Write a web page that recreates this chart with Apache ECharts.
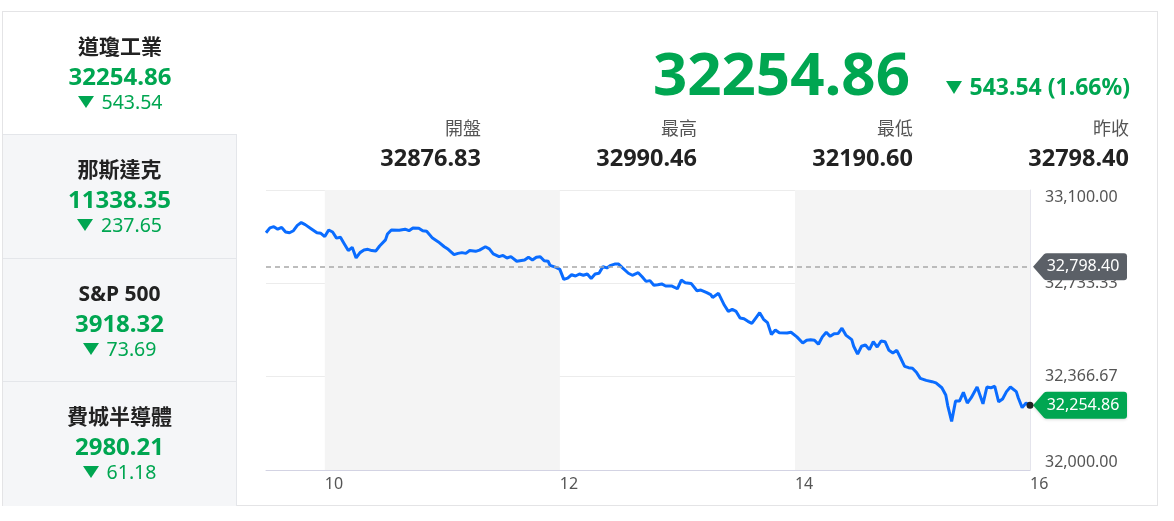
<!DOCTYPE html>
<html>
<head>
<meta charset="utf-8">
<script src="https://cdn.jsdelivr.net/npm/echarts@6/dist/echarts.min.js"></script>
<style>
  html, body { margin:0; padding:0; background:#fff; }
  body { width:1174px; height:521px; position:relative; overflow:hidden;
         font-family: "Noto Sans", "Noto Sans CJK TC", sans-serif; }
  #card { position:absolute; left:2px; top:11px; width:1156px; height:495px;
          border:1px solid #e4e4e6; box-sizing:border-box; }
  #chart { position:absolute; left:0; top:0; width:1174px; height:521px; }
  .tile { position:absolute; left:3px; width:234px; text-align:center; box-sizing:border-box; }
  .tile.inactive { background:#f5f6f8; border-right:1px solid #e4e6ea; border-top:1px solid #e4e6ea; }
  .tile .nm { position:absolute; left:0; right:0; font-size:21px; font-weight:bold; color:#222; line-height:24px; }
  .tile .val { position:absolute; left:0; right:0; font-size:24px; font-weight:bold; color:#00a651; line-height:26px; }
  .tile .chg { position:absolute; left:0; right:0; font-size:19.5px; color:#00a651; line-height:22px; }
  .tri { display:inline-block; width:0; height:0; border-left:8px solid transparent; border-right:8px solid transparent;
         border-top:12px solid #00a651; margin-right:8px; vertical-align:1px; }
  #big { position:absolute; right:264px; top:36px; font-size:60px; font-weight:bold; color:#00a651; line-height:72px; }
  #bigchg { position:absolute; right:44px; top:73px; font-size:23px; font-weight:bold; color:#00a651; line-height:26px; }
  #bigchg .tri { border-left:8px solid transparent; border-right:8px solid transparent; border-top:13px solid #00a651; margin-right:8px; }
  .stat { position:absolute; width:216px; text-align:right; }
  .stat .lb { font-size:18px; color:#555; line-height:22px; }
  .stat .vv { font-size:23.5px; font-weight:bold; color:#222; line-height:26px; margin-top:5px; }
</style>
</head>
<body>
<div id="card"></div>
<div id="chart"></div>
<div id="panel"></div>
<div id="big"></div>
<div id="bigchg"></div>
<div id="stats"></div>
<script>
// ---- data ----
const indexNames = ["道瓊工業", "那斯達克", "S&P 500", "費城半導體"];
const indexValues = ["32254.86", "11338.35", "3918.32", "2980.21"];
const indexChanges = ["543.54", "237.65", "73.69", "61.18"];

const lastPrice = "32254.86";
const lastChange = "543.54 (1.66%)";
const statLabels = ["開盤", "最高", "最低", "昨收"];
const statValues = ["32876.83", "32990.46", "32190.60", "32798.40"];

const prevClose = 32798.40;
const lastValue = 32254.86;

const xTickLabels = [10, 12, 14, 16];
const shadedRanges = [[10, 12], [14, 16]];
const yMin = 32000, yMax = 33100;

const times = ["09:30","09:32","09:34","09:36","09:38","09:40","09:42","09:44","09:46","09:48",
"09:50","09:53","09:54","09:56","09:58","10:00","10:02","10:04","10:06","10:08",
"10:10","10:12","10:14","10:16","10:18","10:20","10:22","10:24","10:26","10:28",
"10:31","10:32","10:34","10:38","10:41","10:43","10:45","10:48","10:50","10:52",
"10:55","10:58","11:01","11:03","11:06","11:08","11:10","11:12","11:14","11:17",
"11:19","11:22","11:24","11:26","11:29","11:31","11:33","11:35","11:38","11:39",
"11:42","11:44","11:46","11:48","11:50","11:52","11:54","11:55","11:58","12:00",
"12:02","12:04","12:06","12:08","12:10","12:12","12:14","12:16","12:18","12:20",
"12:22","12:24","12:26","12:28","12:30","12:32","12:35","12:37","12:38","12:40",
"12:42","12:44","12:46","12:48","12:50","12:52","12:54","12:57","13:00","13:02",
"13:04","13:07","13:08","13:10","13:12","13:15","13:17","13:18","13:21","13:24",
"13:26","13:28","13:30","13:32","13:34","13:36","13:38","13:40","13:42","13:44",
"13:46","13:48","13:50","13:52","13:53","13:56","13:58","14:01","14:04","14:06",
"14:08","14:10","14:12","14:14","14:16","14:18","14:20","14:22","14:24","14:26",
"14:29","14:30","14:32","14:34","14:36","14:38","14:40","14:42","14:44","14:46",
"14:48","14:50","14:52","14:54","14:56","14:58","15:00","15:02","15:04","15:07",
"15:10","15:12","15:15","15:17","15:18","15:20","15:22","15:24","15:26","15:28",
"15:30","15:33","15:34","15:36","15:38","15:40","15:42","15:44","15:46","15:48",
"15:50","15:53","15:54","15:56","15:58","16:00"];

const prices = [32932,32951,32956,32946,32953,32935,32932,32940,32961,32972,
32964,32948,32943,32932,32930,32917,32943,32935,32911,32914,
32888,32862,32875,32833,32854,32864,32867,32862,32860,32880,
32904,32927,32943,32942,32946,32940,32951,32950,32940,32938,
32911,32896,32877,32867,32846,32851,32854,32851,32862,32859,
32864,32877,32869,32849,32838,32843,32833,32838,32820,32825,
32825,32836,32825,32836,32838,32822,32820,32804,32796,32788,
32749,32754,32767,32762,32770,32765,32770,32752,32770,32773,
32799,32794,32804,32809,32809,32794,32773,32765,32767,32775,
32759,32741,32744,32726,32728,32731,32723,32723,32712,32746,
32736,32733,32726,32704,32707,32697,32689,32678,32694,32647,
32623,32631,32623,32597,32594,32584,32576,32597,32618,32592,
32579,32532,32550,32539,32533,32538,32541,32523,32499,32510,
32512,32510,32494,32523,32541,32525,32535,32536,32557,32530,
32512,32486,32455,32486,32491,32473,32504,32483,32507,32504,
32470,32460,32470,32439,32407,32402,32400,32384,32360,32352,
32347,32342,32323,32295,32253,32191,32271,32271,32305,32263,
32284,32326,32326,32260,32326,32323,32329,32268,32279,32308,
32326,32308,32284,32245,32263,32254.86];

// ---- HTML panel ----
const fmtComma = v => Number(v).toLocaleString('en-US', {minimumFractionDigits:2, maximumFractionDigits:2});
const tileTops = [11, 134, 258, 381];
const tileHeights = [123, 124, 123, 125];
const panel = document.getElementById('panel');
indexNames.forEach((n, i) => {
  const t = document.createElement('div');
  t.className = 'tile' + (i > 0 ? ' inactive' : '');
  t.style.top = tileTops[i] + 'px';
  t.style.height = tileHeights[i] + 'px';
  const d = i > 0 ? 1 : 0;
  t.innerHTML = `<div class="nm" style="top:${23 - d}px">${n.replace('&','&amp;')}</div>` +
                `<div class="val" style="top:${52 - d}px">${indexValues[i]}</div>` +
                `<div class="chg" style="top:${80 - d}px"><span class="tri"></span>${indexChanges[i]}</div>`;
  panel.appendChild(t);
});
document.getElementById('big').textContent = lastPrice;
document.getElementById('bigchg').innerHTML = '<span class="tri"></span>' + lastChange;
const stats = document.getElementById('stats');
statLabels.forEach((l, i) => {
  const s = document.createElement('div');
  s.className = 'stat';
  s.style.left = (265 + i * 216) + 'px';
  s.style.top = '117px';
  s.innerHTML = `<div class="lb">${l}</div><div class="vv">${statValues[i]}</div>`;
  stats.appendChild(s);
});

// ---- chart ----
const toHour = s => { const [h, m] = s.split(':').map(Number); return h + m / 60; };
const lineData = times.map((t, i) => [toHour(t), prices[i]]);
const xMin = toHour(times[0]), xMax = toHour(times[times.length - 1]);

const tagPath = 'path://M0,13.5 L11,1 Q12,0 14,0 L91,0 Q94,0 94,3 L94,24 Q94,27 91,27 L14,27 Q12,27 11,26 Z';
const lblFont = { fontSize: 16, fontFamily: 'Noto Sans' };

const chart = echarts.init(document.getElementById('chart'), null, {renderer: 'canvas'});
chart.setOption({
  animation: false,
  grid: { left: 266, right: 144, top: 190, bottom: 51 },
  xAxis: {
    type: 'value', min: xMin, max: xMax, interval: 0.5,
    axisLine: { show: true, lineStyle: { color: '#d3d3e3', width: 1 } },
    axisTick: { show: false },
    splitLine: { show: false },
    axisLabel: {
      color: '#555', ...lblFont, align: 'left', margin: 6,
      showMinLabel: true, showMaxLabel: true,
      formatter: v => xTickLabels.includes(Math.round(v * 1000) / 1000) ? String(v) : ''
    }
  },
  yAxis: {
    type: 'value', position: 'right', min: yMin, max: yMax, interval: (yMax - yMin) / 3,
    axisLine: { show: true, lineStyle: { color: '#e4e4ec', width: 1 } },
    axisTick: { show: false },
    splitLine: { show: true, lineStyle: { color: '#ececec', width: 1 } },
    axisLabel: {
      color: '#555', ...lblFont, margin: 15,
      formatter: v => {
        const s = fmtComma(v);
        if (Math.abs(v - yMax) < 0.01) return '{top|' + s + '}';
        if (Math.abs(v - yMin) < 0.01) return '{bot|' + s + '}';
        return s;
      },
      rich: {
        top: { color: '#555', ...lblFont, padding: [15, 0, 0, 0] },
        bot: { color: '#555', ...lblFont, padding: [0, 0, 15, 0] }
      }
    }
  },
  series: [{
    type: 'line',
    data: lineData,
    showSymbol: false,
    symbol: 'none',
    lineStyle: { color: '#0a6cff', width: 3 },
    z: 3,
    markArea: {
      silent: true,
      itemStyle: { color: '#f4f4f4' },
      data: shadedRanges.map(r => [{ xAxis: r[0] }, { xAxis: r[1] }])
    },
    markLine: {
      silent: true, symbol: 'none',
      lineStyle: { color: '#a8a8a8', type: [5, 4], width: 1.5 },
      label: { show: false },
      data: [{ yAxis: prevClose }]
    },
    markPoint: {
      silent: true,
      data: [
        { coord: [xMax, prevClose], symbol: tagPath, symbolSize: [94, 27], symbolOffset: [50, 0],
          symbolKeepAspect: false,
          itemStyle: { color: '#5b6067' },
          label: { show: true, formatter: fmtComma(prevClose), color: '#fff', ...lblFont, offset: [3, 0] } },
        { coord: [xMax, lastValue], symbol: tagPath, symbolSize: [94, 27], symbolOffset: [50, 0],
          symbolKeepAspect: false,
          itemStyle: { color: '#00a651', shadowColor: 'rgba(0,0,0,0.15)', shadowBlur: 3, shadowOffsetY: 1 },
          label: { show: true, formatter: fmtComma(lastValue), color: '#fff', ...lblFont, offset: [3, 0] } },
        { coord: [xMax, lastValue], symbol: 'circle', symbolSize: 7,
          itemStyle: { color: '#222' }, label: { show: false } }
      ]
    }
  }]
});
</script>
</body>
</html>
